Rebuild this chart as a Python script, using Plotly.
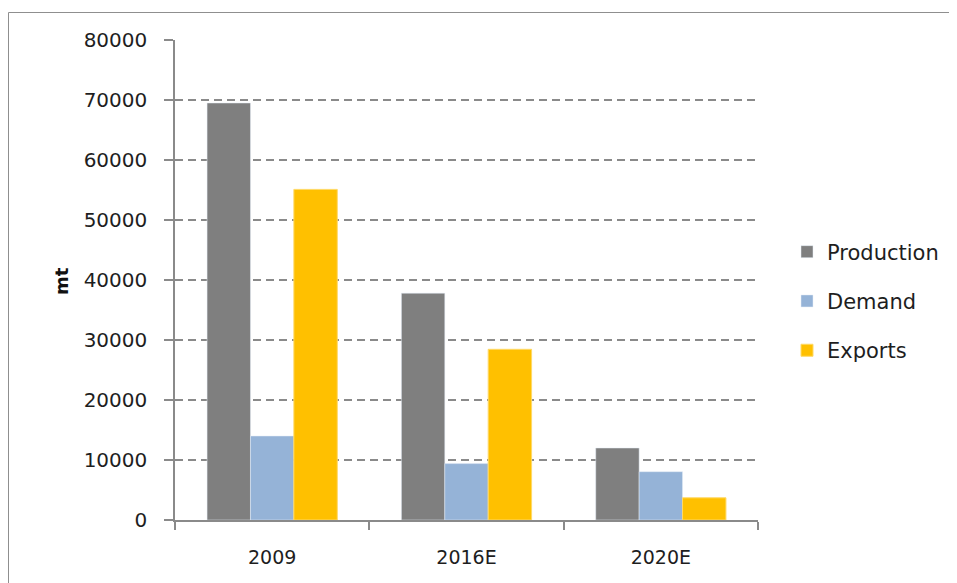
import plotly.graph_objects as go

categories = ["2009", "2016E", "2020E"]
production = [69500, 37800, 12000]
demand = [14000, 9400, 8050]
exports = [55100, 28450, 3700]
y_ticks = [0, 10000, 20000, 30000, 40000, 50000, 60000, 70000, 80000]
y_tick_labels = [str(v) for v in y_ticks]

FONT = "DejaVu Sans"
fig = go.Figure()
fig.add_bar(name="Production", x=categories, y=production, marker_color="#7f7f7f",
            legendgroup="p")
fig.add_bar(name="Demand", x=categories, y=demand, marker_color="#95b3d7",
            legendgroup="d")
fig.add_bar(name="Exports", x=categories, y=exports, marker_color="#ffc000",
            marker_line=dict(color="#ffd966", width=1), legendgroup="e")

# page body has an 8px offset; coordinates below are figure pixels
W, H = 949, 575
L, T = 167, 32
R = W - 750
B = H - 512
pw, ph = W - L - R, H - T - B
y0_px = H - B  # figure pixel of the x axis

GRID = "#8a8a8a"
fx0 = (0.5 - L) / pw
fx1 = (W + 30 - L) / pw
fy_top = (y0_px - 4.5) / ph
fy_bot = (y0_px - (H + 30)) / ph
fig.update_layout(
    width=W, height=H,
    margin=dict(l=L, r=R, t=T, b=B),
    paper_bgcolor="white", plot_bgcolor="white",
    barmode="group", bargap=0.33, bargroupgap=0,
    font=dict(family=FONT, size=19, color="#1e1e1e"),
    showlegend=True,
    legend=dict(x=(779 - L) / pw, y=(y0_px - 293) / ph, xanchor="left", yanchor="middle",
                font=dict(size=21, family=FONT), tracegroupgap=19, itemwidth=30,
                bgcolor="rgba(0,0,0,0)"),
    xaxis=dict(showline=True, linecolor=GRID, linewidth=1.5, ticks="outside",
               tickson="boundaries", ticklen=8, tickcolor=GRID, tickwidth=1.5,
               showgrid=False, tickfont=dict(size=19), ticklabelstandoff=19),
    yaxis=dict(range=[0, 80000], tickvals=y_ticks, ticktext=y_tick_labels,
               showline=True, linecolor=GRID,
               linewidth=1.5, ticks="outside", ticklen=9, tickcolor=GRID, tickwidth=1.5,
               showgrid=True, gridcolor=GRID, griddash="8px,5px", gridwidth=1.5,
               tickfont=dict(size=20), zeroline=False, ticklabelstandoff=13),
    annotations=[dict(text="<b>mt</b>", xref="paper", yref="paper",
                      x=(53 - L) / pw, y=(y0_px - 273) / ph, xanchor="center", yanchor="middle",
                      textangle=-90, showarrow=False, font=dict(size=18, family=FONT, color="#111"))],
    shapes=[
        dict(type="line", xref="paper", yref="paper", x0=fx0, x1=fx1, y0=fy_top, y1=fy_top,
             line=dict(color="#8f8f8f", width=1), layer="below"),
        dict(type="line", xref="paper", yref="paper", x0=fx0, x1=fx0, y0=fy_top, y1=fy_bot,
             line=dict(color="#8f8f8f", width=1), layer="below"),
    ],
)
fig.write_html("out.html")
